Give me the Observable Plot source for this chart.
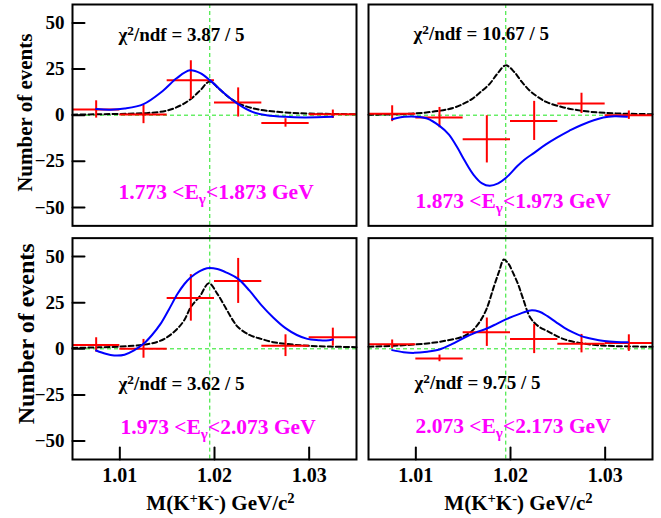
<!DOCTYPE html>
<html>
<head>
<meta charset="utf-8">
<script src="https://cdn.jsdelivr.net/npm/d3@7"></script>
<script src="https://cdn.jsdelivr.net/npm/@observablehq/plot@0.6"></script>
<style>
  html, body { margin: 0; padding: 0; background: #fff; }
  #chart { width: 661px; height: 518px; }
</style>
</head>
<body>
<div id="chart"></div>
<script>
// ---------- data ----------
const panelCols = [0, 1, 0, 1];
const panelRows = [0, 0, 1, 1];
const binCenters = [1.0075, 1.0125, 1.0175, 1.0225, 1.0275, 1.0325];
const binHalfWidth = 0.0025;
const counts = [
  [3.1, 0.4, 19.0, 6.9, -4.2, 0.5],
  [0.8, -1.3, -13.1, -3.1, 6.4, 0.0],
  [2.1, 0.0, 27.6, 36.8, 1.7, 6.3],
  [2.5, -5.2, 9.0, 5.3, 2.8, 3.1]
];
const errors = [
  [4.7, 5.0, 10.5, 7.9, 2.3, 2.3],
  [4.3, 5.5, 12.8, 10.6, 5.5, 2.3],
  [3.9, 5.1, 12.6, 12.2, 5.9, 4.9],
  [2.3, 1.8, 7.7, 7.9, 5.0, 4.5]
];
// blue fit curves
const fitX = [
  [1.0075, 1.0090, 1.0105, 1.0125, 1.0145, 1.0160, 1.0174, 1.0185, 1.0195, 1.0210, 1.0225, 1.0240, 1.0255, 1.0275, 1.0295, 1.0325],
  [1.0075, 1.0088, 1.0100, 1.0112, 1.0125, 1.0135, 1.0144, 1.0152, 1.0161, 1.0170, 1.0178, 1.0187, 1.0195, 1.0207, 1.0215, 1.0225, 1.0237, 1.0249, 1.0262, 1.0275, 1.0298, 1.0310, 1.0323],
  [1.0075, 1.0085, 1.0094, 1.0105, 1.0115, 1.0125, 1.0134, 1.0143, 1.0152, 1.0161, 1.0168, 1.0175, 1.0184, 1.0192, 1.0203, 1.0214, 1.0225, 1.0237, 1.0249, 1.0262, 1.0275, 1.0287, 1.0298, 1.0310, 1.0318, 1.0325],
  [1.0075, 1.0087, 1.0098, 1.0112, 1.0125, 1.0138, 1.0151, 1.0163, 1.0175, 1.0186, 1.0197, 1.0209, 1.0221, 1.0230, 1.0239, 1.0248, 1.0257, 1.0266, 1.0275, 1.0287, 1.0299, 1.0312, 1.0324]
];
const fitY = [
  [3.3, 3.0, 3.6, 6.0, 13.0, 20.0, 24.3, 22.8, 19.0, 12.0, 6.0, 1.8, 0.0, -0.9, -1.2, -0.9],
  [-2.2, -0.9, -0.8, -1.8, -5.8, -10.5, -17.7, -25.0, -32.3, -37.0, -38.3, -37.0, -34.1, -27.7, -24.0, -20.4, -16.0, -12.2, -8.5, -5.3, -1.3, -0.6, -0.9],
  [-0.9, -2.7, -3.6, -3.2, -0.9, 2.7, 7.5, 13.5, 21.5, 29.8, 35.0, 38.8, 42.0, 43.7, 43.3, 41.0, 37.9, 31.5, 24.0, 17.0, 11.2, 7.5, 5.4, 4.7, 4.5, 5.0],
  [-0.7, -1.8, -2.2, -1.6, -0.4, 2.5, 6.0, 8.8, 11.0, 13.7, 16.4, 18.8, 20.8, 20.2, 17.7, 14.5, 11.4, 8.9, 6.9, 5.3, 4.2, 3.7, 3.6]
];
// black dashed reference curves
const refX = [
  [1.0050, 1.0080, 1.0110, 1.0130, 1.0150, 1.0165, 1.0175, 1.0185, 1.0195, 1.0205, 1.0215, 1.0225, 1.0240, 1.0255, 1.0275, 1.0300, 1.0350],
  [1.0050, 1.0098, 1.0125, 1.0140, 1.0151, 1.0160, 1.0168, 1.0178, 1.0186, 1.0195, 1.0204, 1.0212, 1.0221, 1.0230, 1.0239, 1.0256, 1.0270, 1.0285, 1.0310, 1.0350],
  [1.0050, 1.0100, 1.0125, 1.0140, 1.0150, 1.0160, 1.0168, 1.0175, 1.0185, 1.0194, 1.0203, 1.0212, 1.0220, 1.0225, 1.0237, 1.0249, 1.0262, 1.0275, 1.0300, 1.0350],
  [1.0050, 1.0098, 1.0125, 1.0151, 1.0160, 1.0168, 1.0175, 1.0182, 1.0188, 1.0193, 1.0198, 1.0202, 1.0208, 1.0213, 1.0221, 1.0230, 1.0239, 1.0257, 1.0285, 1.0310, 1.0350]
];
const refY = [
  [0.3, 0.5, 0.8, 1.2, 2.5, 5.5, 8.8, 13.5, 18.3, 14.2, 9.7, 6.5, 3.8, 2.4, 1.5, 0.9, 0.5],
  [0.2, 0.9, 2.4, 4.0, 6.4, 9.0, 12.4, 17.0, 22.4, 27.0, 23.4, 18.0, 13.0, 9.5, 6.9, 4.2, 2.8, 1.8, 1.0, 0.5],
  [0.5, 1.2, 2.2, 3.8, 6.3, 10.5, 15.5, 22.6, 28.9, 35.6, 29.8, 22.0, 15.0, 11.7, 7.5, 5.4, 3.6, 2.7, 1.6, 0.9],
  [1.1, 2.3, 3.8, 6.9, 10.0, 15.0, 22.0, 33.0, 42.0, 48.4, 46.0, 42.0, 35.0, 27.6, 16.8, 12.0, 9.6, 5.1, 2.3, 1.5, 1.1]
];
const phiMass = 1.0195;
const xTicks = [1.01, 1.02, 1.03];
const yTicks = [-50, -25, 0, 25, 50];
const chi2Labels = ["\u03c7^{2}/ndf = 3.87 / 5", "\u03c7^{2}/ndf = 10.67 / 5", "\u03c7^{2}/ndf = 3.62 / 5", "\u03c7^{2}/ndf = 9.75 / 5"];
const energyLabels = ["1.773 <E_{\u03b3}<1.873 GeV", "1.873 <E_{\u03b3}<1.973 GeV", "1.973 <E_{\u03b3}<2.073 GeV", "2.073 <E_{\u03b3}<2.173 GeV"];
const xTitle = "M(K^{+}K^{-}) GeV/c^{2}";
const yTitle = "Number of events";

// ---------- tables built from the arrays ----------
const points = [];
const fitRows = [];
const refRows = [];
for (let p = 0; p < 4; p++) {
  binCenters.forEach((c, i) => points.push({panel: p, col: panelCols[p], row: panelRows[p], x: c, y: counts[p][i], e: errors[p][i]}));
  fitX[p].forEach((x, i) => fitRows.push({panel: p, col: panelCols[p], row: panelRows[p], x, y: fitY[p][i]}));
  refX[p].forEach((x, i) => refRows.push({panel: p, col: panelCols[p], row: panelRows[p], x, y: refY[p][i]}));
}
const panelInfo = [0, 1, 2, 3].map(p => ({panel: p, col: panelCols[p], row: panelRows[p]}));
// inward tick marks: y ticks on left column, x ticks on bottom row
const yTickRows = panelInfo.filter(d => d.col === 0).flatMap(d => yTicks.map(v => ({...d, v})));
const xTickRows = panelInfo.filter(d => d.row === 1).flatMap(d => xTicks.map(v => ({...d, v})));

// ---------- styling ----------
const GREEN = "#1ee61e";
const FONT = "'Liberation Serif', 'Times New Roman', serif";
const chi2Offsets = [[46, 36], [45, 35], [46, 152], [46, 151]];
const energyOffsets = [[46, 194], [47, 203], [48, 196], [47, 195]];
const yTitleStyle = [{dy: -2.5, dx: -40.5, size: 21}, null, {dy: -15, dx: -39, size: 24}, null];
const xTitleStyle = [null, null, {dx: 6}, {dx: 8}];
const tickShape = {draw(context, l) { context.moveTo(0, 0); context.lineTo(0, -l); }};

const marks = [
  Plot.ruleY([0], {stroke: GREEN, strokeWidth: 1, strokeDasharray: "4,3"}),
  Plot.ruleX(panelInfo.filter(d => d.row === 0), {x: () => phiMass, fx: "col", fy: "row", stroke: GREEN, strokeWidth: 1, strokeDasharray: "4,3", insetBottom: -12}),
  Plot.ruleX(panelInfo.filter(d => d.row === 1), {x: () => phiMass, fx: "col", fy: "row", stroke: GREEN, strokeWidth: 1, strokeDasharray: "4,3"}),
  Plot.line(refRows, {x: "x", y: "y", z: "panel", fx: "col", fy: "row", stroke: "black", strokeWidth: 2, strokeDasharray: "5,3", curve: "catmull-rom"}),
  Plot.ruleY(points, {y: "y", x1: d => d.x - binHalfWidth, x2: d => d.x + binHalfWidth, fx: "col", fy: "row", stroke: "#ff0000", strokeWidth: 2}),
  Plot.ruleX(points, {x: "x", y1: d => d.y - d.e, y2: d => d.y + d.e, fx: "col", fy: "row", stroke: "#ff0000", strokeWidth: 2}),
  Plot.line(fitRows, {x: "x", y: "y", z: "panel", fx: "col", fy: "row", stroke: "#0000ff", strokeWidth: 2, curve: "catmull-rom"}),
  Plot.frame({stroke: "black", strokeWidth: 2}),
  // inward ticks
  Plot.vector(yTickRows, {y: "v", fx: "col", fy: "row", frameAnchor: "left", rotate: 90, length: 12, anchor: "start", shape: tickShape, stroke: "black", strokeWidth: 2}),
  Plot.vector(xTickRows, {x: "v", fx: "col", fy: "row", frameAnchor: "bottom", rotate: 0, length: 12, anchor: "start", shape: tickShape, stroke: "black", strokeWidth: 2}),
  // tick labels
  Plot.axisY({ticks: yTicks, tickSize: 0, tickPadding: 8, label: null, fontSize: 19, fontWeight: "bold", fill: "black"}),
  Plot.axisX({ticks: xTicks, tickSize: 0, tickPadding: 8, label: null, fontSize: 20, fontWeight: "bold", fill: "black", tickFormat: d3.format(".2f")})
];

for (let p = 0; p < 4; p++) {
  const info = [panelInfo[p]];
  marks.push(Plot.text(info, {fx: "col", fy: "row", text: () => chi2Labels[p], frameAnchor: "top-left", textAnchor: "start", lineAnchor: "bottom",
    dx: chi2Offsets[p][0], dy: chi2Offsets[p][1], fontSize: 19, fontWeight: "bold", fill: "black"}));
  marks.push(Plot.text(info, {fx: "col", fy: "row", text: () => energyLabels[p], frameAnchor: "top-left", textAnchor: "start", lineAnchor: "bottom",
    dx: energyOffsets[p][0], dy: energyOffsets[p][1], fontSize: 21.5, fontWeight: "bold", fill: "#ff00ff"}));
  if (yTitleStyle[p]) {
    const s = yTitleStyle[p];
    marks.push(Plot.text(info, {fx: "col", fy: "row", text: () => yTitle, frameAnchor: "left", rotate: -90, textAnchor: "middle", lineAnchor: "bottom",
      dx: s.dx, dy: s.dy, fontSize: s.size, fontWeight: "bold", fill: "black"}));
  }
  if (xTitleStyle[p]) {
    marks.push(Plot.text(info, {fx: "col", fy: "row", text: () => xTitle, frameAnchor: "bottom", textAnchor: "middle", lineAnchor: "bottom",
      dx: xTitleStyle[p].dx, dy: 50, fontSize: 21, fontWeight: "bold", fill: "black"}));
  }
}

const chart = Plot.plot({
  width: 661,
  height: 518,
  marginLeft: 72,
  marginRight: 9,
  marginTop: 4,
  marginBottom: 59,
  style: {fontFamily: FONT, fontWeight: "bold", background: "white", color: "black"},
  x: {domain: [1.005, 1.035]},
  y: {domain: [-60, 60]},
  fx: {domain: [0, 1], axis: null, paddingInner: 12 / 296, paddingOuter: 0, round: false},
  fy: {domain: [0, 1], axis: null, paddingInner: 0.0525, paddingOuter: 0, round: false},
  marks
});

// rich text: ^{...} superscript, _{...} subscript
const NS = "http://www.w3.org/2000/svg";
chart.querySelectorAll("text").forEach(el => {
  const s = el.textContent;
  if (!/[\^_]\{/.test(s)) return;
  el.textContent = "";
  const re = /([\^_])\{([^}]*)\}/g;
  let last = 0, m;
  const add = (txt, kind) => {
    if (!txt) return;
    const t = document.createElementNS(NS, "tspan");
    t.textContent = txt;
    if (kind) {
      t.setAttribute("font-size", "70%");
      t.setAttribute("baseline-shift", kind === "^" ? "45%" : "-30%");
    }
    el.appendChild(t);
  };
  while ((m = re.exec(s))) {
    add(s.slice(last, m.index));
    add(m[2], m[1]);
    last = re.lastIndex;
  }
  add(s.slice(last));
});

document.getElementById("chart").appendChild(chart);
</script>
</body>
</html>
